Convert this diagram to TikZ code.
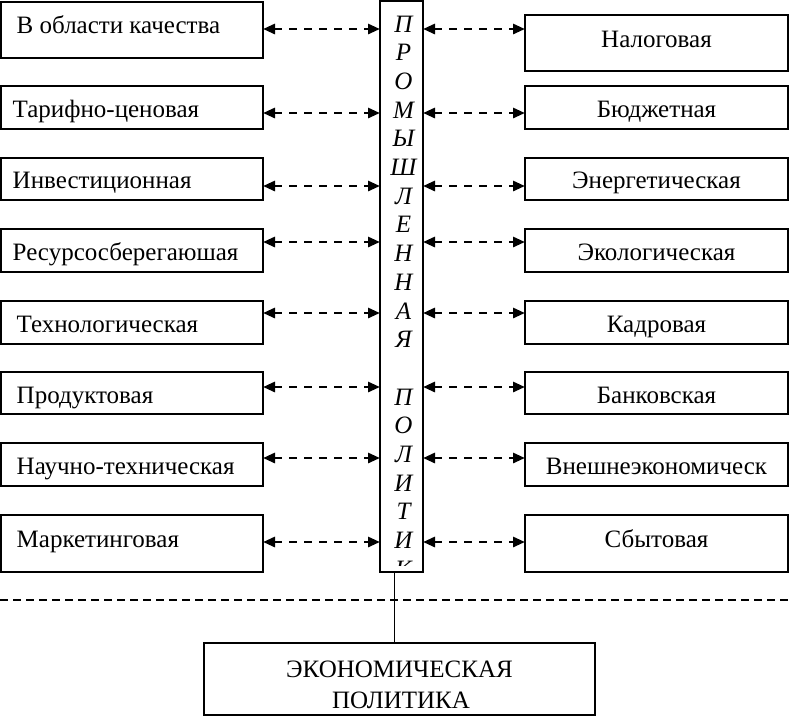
\documentclass[tikz,border=0pt]{standalone}
\usepackage{fontspec}
\setmainfont{Liberation Serif}
\usetikzlibrary{arrows.meta}
\begin{document}
\begin{tikzpicture}[x=1pt,y=-1pt,
  box/.style={draw,line width=2pt,inner sep=0pt,outer sep=0pt,anchor=north west},
  txt/.style={inner sep=0pt,font=\fontsize{25}{30}\selectfont},
  vtxt/.style={inner sep=0pt,font=\fontsize{25}{30}\selectfont\itshape,anchor=base},
  arr/.style={line width=2.8pt,dash pattern=on 8pt off 7pt,
    {Triangle[length=12pt,width=10pt]}-{Triangle[length=12pt,width=10pt]}},
  sep/.style={line width=2pt,dash pattern=on 8pt off 5pt},
  ]
\useasboundingbox (0,0) rectangle (789,716);
% left column
\foreach \n/\tp/\hh/\xx/\bb/\lab in {
  1/2/56/16.5/33/{В области качества},
  2/86/43/12.5/117/{Тарифно-ценовая},
  3/158/42/12.5/188/{Инвестиционная},
  4/229/43/12.5/260/{Ресурсосберегаюшая},
  5/301/43/16.5/332/{Технологическая},
  6/372/42/16.5/403/{Продуктовая},
  7/443/43/16.5/474/{Научно-техническая},
  8/515/57/16.5/547/{Маркетинговая}} {
  \node[box,minimum width=262pt,minimum height=\hh pt] (l\n) at (1,\tp) {};
  \node[txt,anchor=base west] (lt\n) at (\xx,\bb) {\lab};
}
% right column
\foreach \n/\tp/\hh/\bb/\lab in {
  1/15/56/47/{Налоговая},
  2/86/43/117/{Бюджетная},
  3/158/42/188/{Энергетическая},
  4/229/43/260/{Экологическая},
  5/301/43/332/{Кадровая},
  6/372/42/403/{Банковская},
  7/443/43/474/{Внешнеэкономическ},
  8/515/57/547/{Сбытовая}} {
  \node[box,minimum width=263pt,minimum height=\hh pt] (r\n) at (525,\tp) {};
  \node[txt,anchor=base] (rt\n) at (656.5,\bb) {\lab};
}
% central column
\node[box,minimum width=43pt,minimum height=571pt] (c) at (380,1) {};
\begin{scope}
  \clip (380,1) rectangle (423,565);
  \foreach \L [count=\k from 0] in {П,Р,О,М,Ы,Ш,Л,Е,Н,Н,А,Я,{},П,О,Л,И,Т,И,К,И}
    \node[vtxt] (v\k) at (403.5,32+28.7*\k) {\L};
\end{scope}
% arrows
\foreach \n/\yy in {1/29,2/113,3/186,4/242,5/313,6/387,7/458,8/542} {
  \coordinate (a\n) at (0,\yy);
  \draw[arr] (l\n.east |- a\n) -- (c.west |- a\n);
  \draw[arr] (c.east |- a\n) -- (r\n.west |- a\n);
}
% separator
\coordinate (dl) at (0,600);
\coordinate (dr) at (789,600);
\draw[sep] (dl) -- (dr);
% bottom box
\node[box,minimum width=391pt,minimum height=72pt] (eco) at (204,643) {};
\node[txt,anchor=base] (eco1) at (399.5,677) {ЭКОНОМИЧЕСКАЯ};
\node[txt,anchor=base] (eco2) at (401,708) {ПОЛИТИКА};
\coordinate (vx) at (394,0);
\draw[line width=1pt] (c.south -| vx) -- (eco.north -| vx);
\end{tikzpicture}
\end{document}
